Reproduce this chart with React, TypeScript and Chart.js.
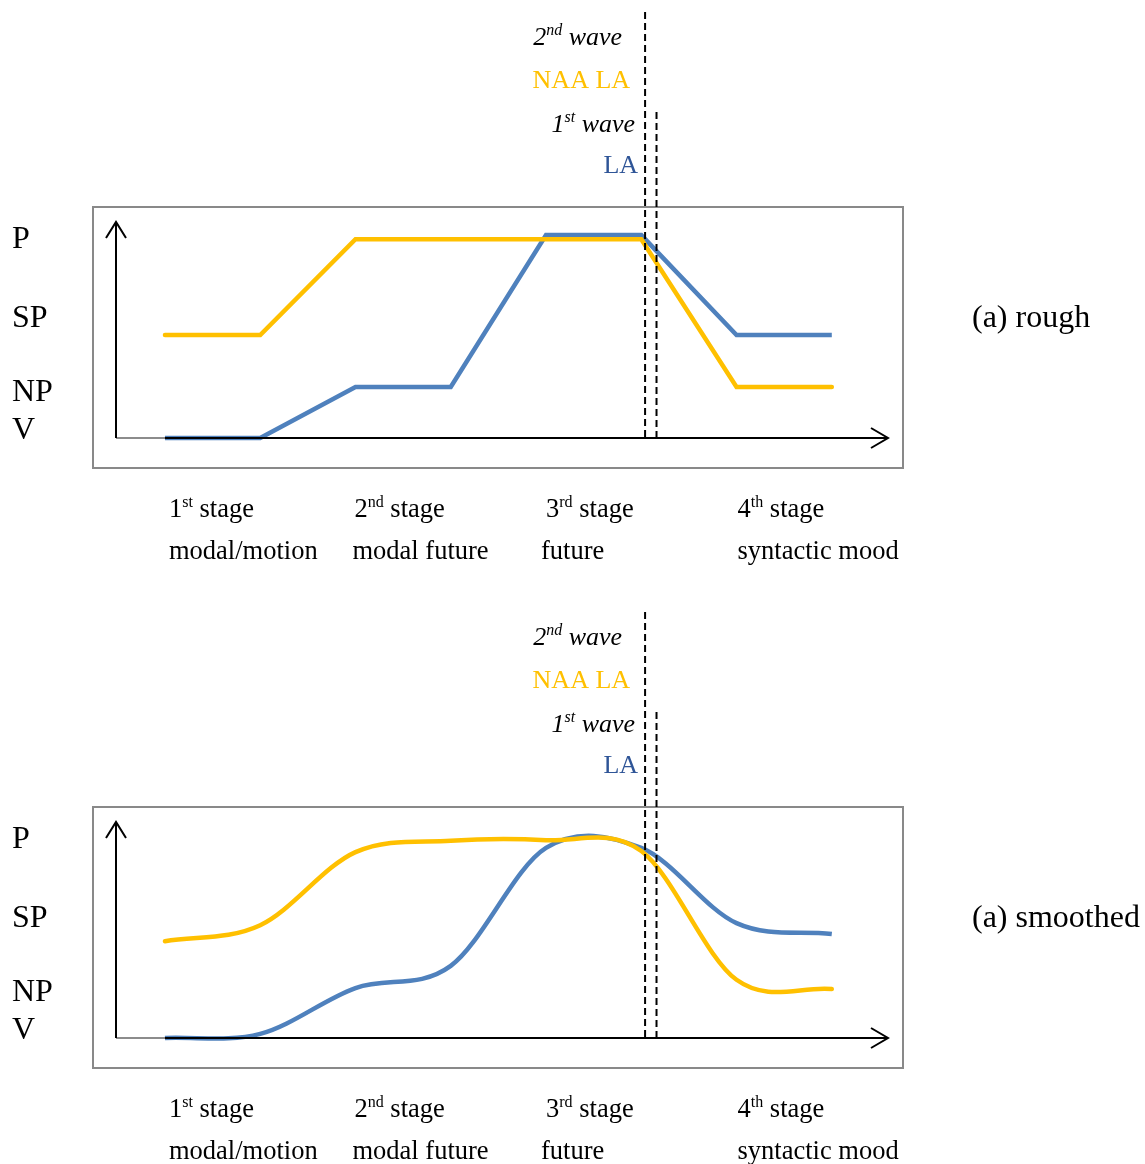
import React, { useEffect, useRef } from 'react';
import { Chart, registerables } from 'chart.js';

Chart.register(...registerables);

// ---------------- data ----------------
const stageIndex = [0, 1, 2, 3, 4, 5, 6, 7];
const roughNaaLa = [2.0, 2.0, 3.86, 3.86, 3.86, 3.86, 0.99, 0.99];
const roughLa = [0.0, 0.0, 0.99, 0.99, 3.94, 3.94, 2.0, 2.0];
const smoothNaaLa = [1.88, 2.19, 3.61, 3.83, 3.84, 3.63, 1.13, 0.95];
const smoothLa = [0.0, 0.08, 0.97, 1.4, 3.69, 3.69, 2.23, 2.02];
const levelLabels = ['P', 'SP', 'NP', 'V'];
const levelValues = [3.9, 2.37, 0.93, 0.19];
const stageOrdinals = ['1', '2', '3', '4'];
const stageSuffixes = ['st', 'nd', 'rd', 'th'];
const stageNames = ['modal/motion', 'modal future', 'future', 'syntactic mood'];
const stageAt = [0, 2, 4, 6];
const waveAt = [5.04, 5.16]; // 2nd wave (NAA LA) line, 1st wave (LA) line
const captions = ['(a) rough', '(a) smoothed'];

const YELLOW = '#FFC000';
const BLUE = '#4F81BD';
const LA_TEXT = '#2F5597';
const SERIF = "'Liberation Serif', 'Times New Roman', serif";

type Run = { t: string; sup?: boolean };

function drawRuns(
  ctx: CanvasRenderingContext2D,
  runs: Run[],
  x: number,
  y: number,
  align: 'left' | 'right',
  size: number,
  italic: boolean,
  color: string
) {
  const font = (s: number) => `${italic ? 'italic ' : ''}${s}px ${SERIF}`;
  const supSize = Math.round(size * 0.62);
  let total = 0;
  const widths = runs.map((r) => {
    ctx.font = font(r.sup ? supSize : size);
    const w = ctx.measureText(r.t).width;
    total += w;
    return w;
  });
  let cx = align === 'left' ? x : x - total;
  ctx.fillStyle = color;
  ctx.textAlign = 'left';
  ctx.textBaseline = 'alphabetic';
  runs.forEach((r, i) => {
    ctx.font = font(r.sup ? supSize : size);
    ctx.fillText(r.t, cx, r.sup ? y - size * 0.38 : y);
    cx += widths[i];
  });
}

const sketchPlugin = {
  id: 'sketch',
  beforeDatasetsDraw(chart: any) {
    const { ctx, chartArea: a } = chart;
    ctx.save();
    ctx.strokeStyle = '#898989';
    ctx.lineWidth = 2;
    ctx.strokeRect(a.left - 23, a.top - 15, a.right - a.left + 38, a.bottom - a.top + 45);
    ctx.restore();
  },
  beforeDatasetDraw(chart: any, args: any, opts: any) {
    if (!opts.catmull) return;
    const meta = args.meta;
    const line = meta.dataset;
    if (!line || !line.options || !line.options.tension) return;
    line.updateControlPoints(chart.chartArea, 'x');
    const pts = meta.data;
    const n = pts.length;
    for (let i = 0; i < n; i++) {
      const p = pts[i];
      const prev = pts[Math.max(0, i - 1)];
      const next = pts[Math.min(n - 1, i + 1)];
      const s = i === 0 || i === n - 1 ? 1 / 3 : 1 / 6;
      const dx = (next.x - prev.x) * s;
      const dy = (next.y - prev.y) * s;
      p.cp1x = p.x - dx;
      p.cp1y = p.y - dy;
      p.cp2x = p.x + dx;
      p.cp2y = p.y + dy;
    }
  },
  afterDatasetsDraw(chart: any, _args: any, opts: any) {
    const { ctx, chartArea: a } = chart;
    const xs = chart.scales.x;
    const ys = chart.scales.y;
    ctx.save();
    // axes
    ctx.lineCap = 'butt';
    ctx.strokeStyle = '#8c8c8c';
    ctx.lineWidth = 2;
    ctx.beginPath();
    ctx.moveTo(a.left, a.bottom);
    ctx.lineTo(a.right, a.bottom);
    ctx.stroke();
    ctx.strokeStyle = '#000';
    ctx.beginPath();
    ctx.moveTo(xs.getPixelForValue(stageIndex[0]), a.bottom);
    ctx.lineTo(a.right, a.bottom);
    ctx.moveTo(a.right - 17, a.bottom - 10);
    ctx.lineTo(a.right, a.bottom);
    ctx.lineTo(a.right - 17, a.bottom + 10);
    ctx.stroke();
    ctx.beginPath();
    ctx.moveTo(a.left, a.bottom);
    ctx.lineTo(a.left, a.top);
    ctx.moveTo(a.left - 10, a.top + 16);
    ctx.lineTo(a.left, a.top);
    ctx.lineTo(a.left + 10, a.top + 16);
    ctx.stroke();

    // dashed wave lines
    const x1 = xs.getPixelForValue(waveAt[0]);
    const x2 = xs.getPixelForValue(waveAt[1]);
    ctx.setLineDash([7, 4]);
    ctx.beginPath();
    ctx.moveTo(x1, a.top - 210);
    ctx.lineTo(x1, a.bottom);
    ctx.moveTo(x2, a.top - 110);
    ctx.lineTo(x2, a.bottom);
    ctx.stroke();
    ctx.setLineDash([]);

    // wave labels
    drawRuns(ctx, [{ t: '2' }, { t: 'nd', sup: true }, { t: ' wave' }], x1 - 23, a.top - 177, 'right', 26, true, '#000');
    drawRuns(ctx, [{ t: 'NAA LA' }], x1 - 15, a.top - 134, 'right', 26, false, YELLOW);
    drawRuns(ctx, [{ t: '1' }, { t: 'st', sup: true }, { t: ' wave' }], x1 - 10, a.top - 90, 'right', 26, true, '#000');
    drawRuns(ctx, [{ t: 'LA' }], x1 - 7, a.top - 49, 'right', 26, false, LA_TEXT);

    // level labels
    levelLabels.forEach((lab, i) => {
      drawRuns(ctx, [{ t: lab }], a.left - 104, ys.getPixelForValue(levelValues[i]) + 11, 'left', 32, false, '#000');
    });

    // stage labels
    const offs = [4, -1, 0, 1];
    const offs2 = [4, -3, -5, 1];
    stageAt.forEach((s, i) => {
      const px = xs.getPixelForValue(s);
      drawRuns(ctx, [{ t: stageOrdinals[i] }, { t: stageSuffixes[i], sup: true }, { t: ' stage' }], px + offs[i], a.bottom + 79, 'left', 26.5, false, '#000');
      drawRuns(ctx, [{ t: stageNames[i] }], px + offs2[i], a.bottom + 121, 'left', 26.5, false, '#000');
    });

    // caption
    drawRuns(ctx, [{ t: opts.caption }], a.right + 84, ys.getPixelForValue(levelValues[1]) + 11, 'left', 32, false, '#000');
    ctx.restore();
  },
};

function Panel(props: { top: number; height: number; yellow: number[]; blue: number[]; tension: number; caption: string }) {
  const ref = useRef<HTMLCanvasElement>(null);
  useEffect(() => {
    const { height, yellow, blue, tension, caption } = props;
    const chart = new Chart(ref.current as HTMLCanvasElement, {
      type: 'line',
      data: {
        datasets: [
          {
            label: 'NAA LA',
            data: stageIndex.map((x, i) => ({ x, y: yellow[i] })),
            borderColor: YELLOW,
            borderWidth: 4.5,
            pointRadius: 0,
            tension,
            borderCapStyle: 'round',
            clip: false,
            order: 0,
          } as any,
          {
            label: 'LA',
            data: stageIndex.map((x, i) => ({ x, y: blue[i] })),
            borderColor: BLUE,
            borderWidth: 4.5,
            pointRadius: 0,
            tension,
            borderCapStyle: 'butt',
            clip: false,
            order: 1,
          } as any,
        ],
      },
      options: {
        responsive: false,
        maintainAspectRatio: false,
        animation: false,
        events: [],
        layout: { padding: { left: 116, right: 257, top: 222, bottom: height - 438 } },
        scales: {
          x: { type: 'linear', min: -0.514, max: 7.59, display: false },
          y: { type: 'linear', min: 0, max: 4.194, display: false },
        },
        plugins: {
          legend: { display: false },
          tooltip: { enabled: false },
          sketch: { caption, catmull: tension > 0 },
        } as any,
      },
      plugins: [sketchPlugin as any],
    });
    return () => chart.destroy();
  }, []);
  return (
    <canvas
      ref={ref}
      width={1145}
      height={props.height}
      style={{ position: 'absolute', left: 0, top: props.top, width: 1145, height: props.height, display: 'block' }}
    />
  );
}

export default function App() {
  return (
    <div style={{ position: 'fixed', left: 0, top: 0, width: 1145, height: 1164, background: '#fff', overflow: 'hidden' }}>
      <Panel top={0} height={600} yellow={roughNaaLa} blue={roughLa} tension={0} caption={captions[0]} />
      <Panel top={600} height={564} yellow={smoothNaaLa} blue={smoothLa} tension={0.4} caption={captions[1]} />
    </div>
  );
}
